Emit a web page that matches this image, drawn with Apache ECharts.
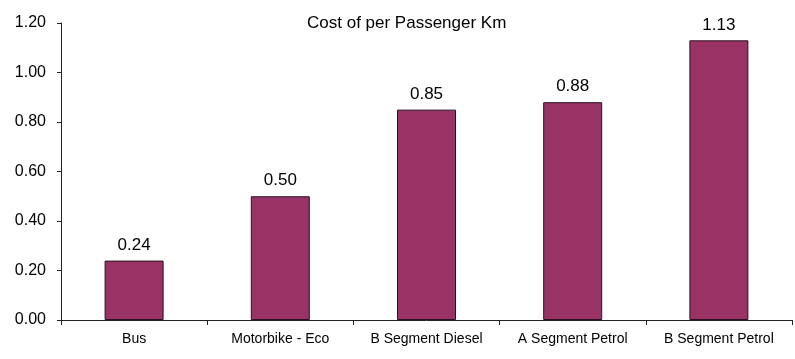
<!DOCTYPE html>
<html>
<head>
<meta charset="utf-8">
<script src="https://cdn.jsdelivr.net/npm/echarts@6/dist/echarts.min.js"></script>
<style>
  html, body { margin: 0; padding: 0; background: #fff; }
  #chart { width: 795px; height: 359px; }
</style>
</head>
<body>
<div id="chart"></div>
<script>
// Cost per passenger-kilometre by vehicle type
const categories = ['Bus', 'Motorbike - Eco', 'B Segment Diesel', 'A Segment Petrol', 'B Segment Petrol'];
const costValues = [0.24, 0.50, 0.85, 0.88, 1.13];
const yTicks = [0, 0.2, 0.4, 0.6, 0.8, 1.0, 1.2];

const FONT = "'Liberation Sans', Arial, sans-serif";

const chart = echarts.init(document.getElementById('chart'), null, { renderer: 'canvas' });

chart.setOption({
  animation: false,
  backgroundColor: '#ffffff',
  title: {
    text: 'Cost of per Passenger Km',
    left: 307,
    top: 15,
    padding: 0,
    textStyle: { fontFamily: FONT, fontSize: 17, fontWeight: 'normal', color: '#000' }
  },
  grid: { left: 61, right: 3, top: 23, bottom: 39, containLabel: false },
  xAxis: {
    type: 'category',
    data: categories,
    axisLine: { show: true, lineStyle: { color: '#222', width: 1 } },
    axisTick: { show: true, length: 5, inside: false, lineStyle: { color: '#222' } },
    axisLabel: { fontFamily: FONT, fontSize: 14, color: '#000', margin: 12, interval: 0 },
    splitLine: { show: false }
  },
  yAxis: {
    type: 'value',
    min: yTicks[0],
    max: yTicks[yTicks.length - 1],
    interval: 0.2,
    axisLine: { show: true, lineStyle: { color: '#222', width: 1 } },
    axisTick: { show: true, length: 4, inside: false, lineStyle: { color: '#222' } },
    axisLabel: {
      fontFamily: FONT, fontSize: 16, color: '#000', margin: 15,
      formatter: v => v.toFixed(2)
    },
    splitLine: { show: false }
  },
  series: [{
    type: 'bar',
    data: costValues,
    barWidth: 59,
    itemStyle: { color: '#993366', borderColor: '#2a1020', borderWidth: 1 },
    label: {
      show: true,
      position: 'top',
      distance: 7,
      fontFamily: FONT,
      fontSize: 17,
      color: '#000',
      formatter: p => p.value.toFixed(2)
    }
  }]
});
</script>
</body>
</html>
